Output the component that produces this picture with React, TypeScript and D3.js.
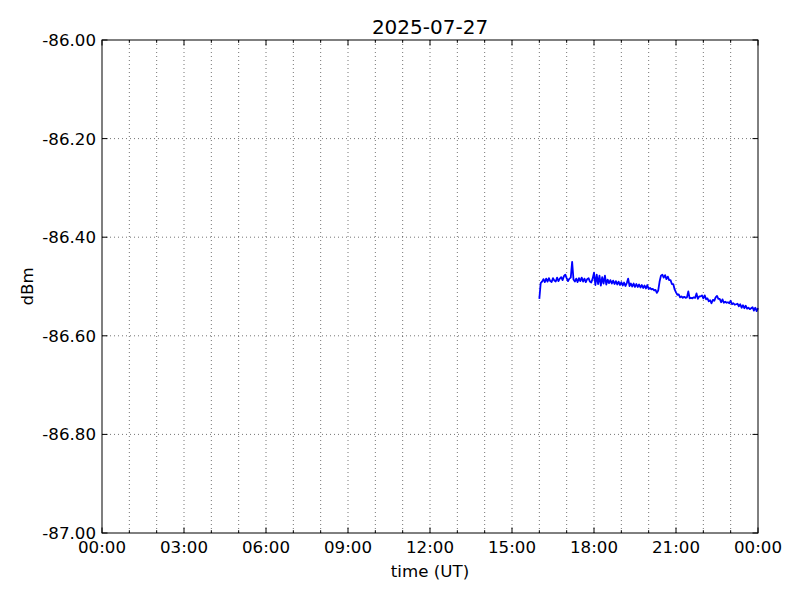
import React from "react";
import * as d3 from "d3";

const TITLE = "2025-07-27";
const X_LABEL = "time (UT)";
const Y_LABEL = "dBm";
const X_TICK_HOURS = [0, 3, 6, 9, 12, 15, 18, 21, 24];
const X_TICK_LABELS = ["00:00", "03:00", "06:00", "09:00", "12:00", "15:00", "18:00", "21:00", "00:00"];
const Y_TICKS = [-86.0, -86.2, -86.4, -86.6, -86.8, -87.0];
const START_HOUR = 16.0;
const STEP_HOUR = 0.05;
const VALUES = [
  -86.525, -86.493, -86.49, -86.485, -86.491, -86.484, -86.49, -86.483, -86.489, -86.491,
  -86.483, -86.488, -86.49, -86.482, -86.489, -86.484, -86.481, -86.487, -86.479, -86.476,
  -86.483, -86.489, -86.484, -86.482, -86.45, -86.486, -86.49, -86.484, -86.491, -86.483,
  -86.489, -86.482, -86.49, -86.484, -86.491, -86.485, -86.483, -86.49, -86.492, -86.484,
  -86.472, -86.497, -86.476, -86.495, -86.478, -86.498, -86.481, -86.494, -86.478, -86.496,
  -86.486, -86.493, -86.487, -86.494, -86.488, -86.495, -86.489, -86.496, -86.49, -86.497,
  -86.491, -86.498, -86.492, -86.499, -86.493, -86.484, -86.499, -86.494, -86.5, -86.494,
  -86.501, -86.495, -86.501, -86.496, -86.502, -86.497, -86.503, -86.498, -86.504, -86.497,
  -86.505, -86.503, -86.506, -86.505, -86.508, -86.507, -86.513, -86.508, -86.49, -86.478,
  -86.476, -86.482, -86.477, -86.485, -86.48, -86.487, -86.487, -86.495, -86.495, -86.506,
  -86.512, -86.517, -86.516, -86.522, -86.52, -86.523, -86.521, -86.523, -86.522, -86.51,
  -86.524, -86.523, -86.524, -86.522, -86.523, -86.514, -86.525, -86.52, -86.52, -86.518,
  -86.524, -86.518, -86.526, -86.524, -86.53, -86.528, -86.534, -86.527, -86.529, -86.522,
  -86.519, -86.525, -86.525, -86.532, -86.526, -86.533, -86.531, -86.533, -86.532, -86.534,
  -86.529, -86.536, -86.534, -86.537, -86.536, -86.535, -86.54, -86.536, -86.543, -86.538,
  -86.544, -86.539, -86.545, -86.543, -86.546, -86.544, -86.542, -86.549, -86.543, -86.55,
  -86.544,
];

const W = 800;
const H = 600;
const M = { left: 102, right: 42, top: 40, bottom: 67 };
const FONT = "DejaVu Sans, sans-serif";

export default function App() {
  const x = d3.scaleLinear().domain([0, 24]).range([M.left, W - M.right]);
  const y = d3.scaleLinear().domain([-87, -86]).range([H - M.bottom, M.top]);
  const pts: [number, number][] = VALUES.map((v, i) => [START_HOUR + i * STEP_HOUR, v]);
  const line = d3.line<[number, number]>().x((d) => x(d[0])).y((d) => y(d[1]));
  const hours = d3.range(1, 24);
  const x0 = M.left, x1 = W - M.right, y0 = M.top, y1 = H - M.bottom;
  return (
    <svg width={W} height={H} style={{ position: "absolute", left: 0, top: 0, background: "#fff" }} fontFamily={FONT}>
      <rect x={0} y={0} width={W} height={H} fill="#fff" />
      {/* grid */}
      {hours.map((h) => (
        <line key={"gx" + h} x1={x(h)} x2={x(h)} y1={y0} y2={y1} stroke="#000" strokeWidth={0.55} strokeDasharray="1,3" />
      ))}
      {Y_TICKS.slice(1, -1).map((t) => (
        <line key={"gy" + t} x1={x0} x2={x1} y1={y(t)} y2={y(t)} stroke="#000" strokeWidth={0.55} strokeDasharray="1,3" />
      ))}
      {/* data */}
      <path d={line(pts) || ""} fill="none" stroke="#0000ff" strokeWidth={1.8} strokeLinejoin="round" />
      {/* ticks */}
      {X_TICK_HOURS.map((h) => (
        <g key={"tx" + h}>
          <line x1={x(h)} x2={x(h)} y1={y1} y2={y1 - 5.5} stroke="#000" />
          <line x1={x(h)} x2={x(h)} y1={y0} y2={y0 + 5.5} stroke="#000" />
        </g>
      ))}
      {hours.filter((h) => h % 3 !== 0).map((h) => (
        <g key={"mx" + h}>
          <line x1={x(h)} x2={x(h)} y1={y1} y2={y1 - 2.8} stroke="#000" />
          <line x1={x(h)} x2={x(h)} y1={y0} y2={y0 + 2.8} stroke="#000" />
        </g>
      ))}
      {Y_TICKS.map((t) => (
        <g key={"ty" + t}>
          <line x1={x0} x2={x0 + 5.5} y1={y(t)} y2={y(t)} stroke="#000" />
          <line x1={x1} x2={x1 - 5.5} y1={y(t)} y2={y(t)} stroke="#000" />
        </g>
      ))}
      {/* frame */}
      <rect x={x0} y={y0} width={x1 - x0} height={y1 - y0} fill="none" stroke="#000" strokeWidth={1} />
      {/* tick labels */}
      {X_TICK_HOURS.map((h, i) => (
        <text key={"lx" + i} x={x(h)} y={552.5} textAnchor="middle" fontSize={16.67} fill="#000">
          {X_TICK_LABELS[i]}
        </text>
      ))}
      {Y_TICKS.map((t) => (
        <text key={"ly" + t} x={96} y={y(t) + 6} textAnchor="end" fontSize={16.67} fill="#000">
          {t.toFixed(2)}
        </text>
      ))}
      <text x={(x0 + x1) / 2} y={577} textAnchor="middle" fontSize={16.67} fill="#000">{X_LABEL}</text>
      <text transform={`translate(32.5,${(y0 + y1) / 2}) rotate(-90)`} textAnchor="middle" fontSize={16.67} fill="#000">{Y_LABEL}</text>
      <text x={(x0 + x1) / 2} y={34} textAnchor="middle" fontSize={20} fill="#000">{TITLE}</text>
    </svg>
  );
}
